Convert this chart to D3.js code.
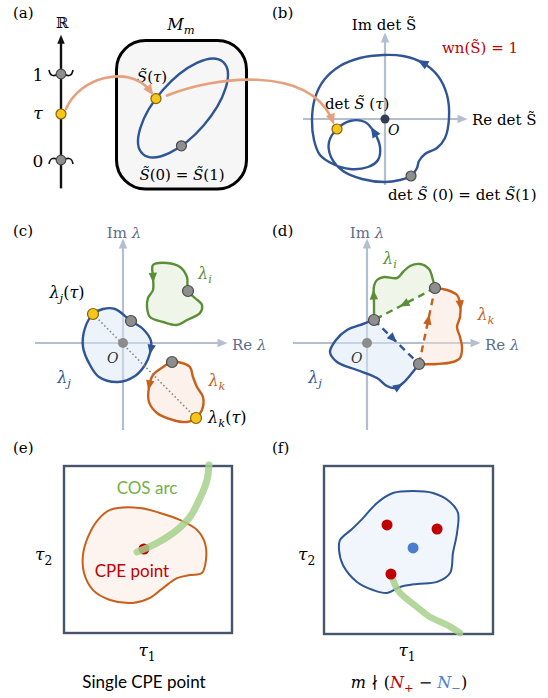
<!DOCTYPE html>
<html><head><meta charset="utf-8">
<script src="https://cdn.jsdelivr.net/npm/d3@7"></script>
<style>
body{margin:0;background:#fff}
svg{display:block}
</style></head><body>
<svg id="fig" width="548" height="698"></svg>
<script>
// ---------------- data ----------------
// (a) parameter line τ ∈ [0,1] and the closed loop S̃(τ) in M_m
const tauTicks = [0, 1];
const tauValue = 0.535;
const loopAxes = [61, 27];          // semi-axes of the loop
const loopTilt = 49;                // degrees
const loopMarks = {start: 119, tau: -100};   // eccentric angles on the loop

// (b) det S̃(τ) in the complex plane (starts/ends at τ = 0 = 1)
const detCurve = [[26,-57],[32,-49],[34,-42],[40,-35],[52,-29],[60,-19],[64,1],[62,24],[53,43],[38,56],[18,63],[-2,64],[-25,61],[-45,53],[-61,39],[-70,21],[-73,-1],[-71,-21],[-65,-36],[-52,-45],[-35,-50],[-17,-48],[-7,-41],[-5,-28],[-11,-13],[-20,-3],[-35,-2],[-48,-10],[-56,-23],[-54,-38],[-42,-52],[-23,-60],[0,-63],[15,-61]];
const detTauIndex = 27;
const detArrows = [[38,56],[-11,-13]];

// (c) eigenvalue loops λ_i, λ_j, λ_k
const lamI = [[44,80],[30,78],[30,66],[30,53],[25,45],[24,36],[27,26],[40,21],[54,18],[64,23],[77,30],[79,38],[72,45],[65,52],[64,66],[57,76]];
const lamJ = [[-30,29],[-20,34],[-8,34],[8,22],[20,14],[28,2],[27,-10],[22,-22],[12,-33],[-5,-39],[-24,-34],[-33,-22],[-40,-4],[-38,15]];
const lamK = [[49,-19],[40,-24],[30,-32],[26,-44],[26,-59],[34,-70],[50,-77],[64,-79],[73,-75],[79,-67],[80,-54],[74,-44],[70,-34],[67,-24],[59,-20]];
const lamStartIdx = {i: 13, j: 3, k: 0};
const lamTauIdx = {j: 0, k: 8};
const lamArrows = {i: [30,66], j: [26,-6], k: [28,-42]};

// (d) braided eigenvalue paths exchanging λ_i → λ_j → λ_k
const swapA = [7,23], swapB = [68,55], swapC = [52,-21];
const swapI = [[7,23],[7,40],[7,57],[10,63],[17,66],[30,65],[36,71],[43,77],[53,79],[62,74],[66,63],[68,55]];
const swapK = [[68,55],[80,53],[90,48],[93,40],[93,26],[90,16],[93,6],[95,-4],[93,-15],[86,-19],[70,-21],[52,-21]];
const swapJ = [[7,23],[-4,19],[-20,13],[-31,3],[-37,-9],[-30,-19],[-10,-27],[10,-35],[20,-43],[28,-45],[36,-40],[45,-30],[52,-21]];
const swapArrows = {i: [7,48], k: [93,38], j: [31,-43]};
const swapDashFrac = {i: 0.5, k: 0.58, j: 0.42};

// (e) single CPE point with a COS arc in the (τ1, τ2) torus
const regionE = [[0.274,0.737],[0.452,0.749],[0.571,0.719],[0.690,0.677],[0.792,0.617],[0.839,0.539],[0.845,0.437],[0.821,0.359],[0.750,0.347],[0.673,0.329],[0.589,0.269],[0.512,0.210],[0.411,0.180],[0.274,0.198],[0.173,0.257],[0.119,0.359],[0.113,0.467],[0.143,0.575],[0.202,0.677]];
const cpeE = [[0.476,0.503]];
const cosArcE = [[0.435,0.485],[0.554,0.539],[0.673,0.617],[0.750,0.695],[0.810,0.808],[0.851,0.916],[0.863,1.006]];

// (f) several CPE points of both signs
const regionF = [[0.095,0.560],[0.166,0.625],[0.231,0.690],[0.314,0.780],[0.408,0.839],[0.527,0.851],[0.645,0.839],[0.746,0.786],[0.793,0.720],[0.787,0.601],[0.763,0.482],[0.746,0.363],[0.669,0.310],[0.550,0.298],[0.450,0.280],[0.373,0.244],[0.290,0.262],[0.195,0.310],[0.112,0.411],[0.089,0.500]];
const cpePlus = [[0.373,0.649],[0.669,0.625],[0.396,0.357]];
const cpeMinus = [[0.527,0.512]];
const cosArcF = [[0.396,0.357],[0.441,0.256],[0.550,0.161],[0.627,0.101],[0.728,0.054],[0.805,0.006]];

// ---------------- drawing ----------------
const svg = d3.select("#fig");
const SERIF = "'DejaVu Serif','Liberation Serif',serif";
const SANS = "Lato,'Open Sans',sans-serif";
const C = {
  blue:"#2f5597", green:"#5b8f37", orange:"#c8601c",
  blueFill:"rgba(220,232,246,0.5)", greenFill:"rgba(224,238,212,0.5)", orangeFill:"rgba(251,226,210,0.45)",
  axis:"#b3bed0", axisText:"#5d6c88", gray:"#8e8e8e", grayStroke:"#4a4a4a",
  yellow:"#f6c61c", yellowStroke:"#856300", salmon:"#e6a07c", red:"#c00000",
  dotBlue:"#4a7fd0", arc:"#a6d08b", cosText:"#72b04a", frame:"#46556b"
};

function label(g, x, y, parts, o = {}) {
  const size = o.size || 15;
  const t = g.append("text").attr("x", x).attr("y", y)
    .attr("font-family", o.family || SERIF).attr("font-size", size)
    .attr("fill", o.color || "#000").attr("text-anchor", o.anchor || "start");
  let shift = 0;
  parts.forEach(p => {
    if (typeof p === "string") p = {t: p};
    const ts = t.append("tspan").text(p.t);
    if (p.i) ts.attr("font-style", "italic");
    if (p.c) ts.attr("fill", p.c);
    const want = p.sub ? size * 0.28 : 0;
    if (want !== shift) { ts.attr("dy", want - shift); shift = want; }
    if (p.sub) ts.attr("font-size", size * 0.72);
  });
  return t;
}

function arrowHead(g, x, y, ang, color, size = 10) {
  g.append("path")
    .attr("d", `M${size*0.55},0 L${-size*0.45},${-size*0.42} L${-size*0.45},${size*0.42}Z`)
    .attr("fill", color)
    .attr("transform", `translate(${x},${y}) rotate(${ang})`);
}

function headAlong(g, node, target, color, size = 10) {
  const L = node.getTotalLength();
  let best = 0, bd = Infinity;
  for (let l = 0; l <= L; l += 0.5) {
    const p = node.getPointAtLength(l);
    const d = (p.x - target[0]) ** 2 + (p.y - target[1]) ** 2;
    if (d < bd) { bd = d; best = l; }
  }
  const p0 = node.getPointAtLength(Math.max(0, best - 1.5));
  const p1 = node.getPointAtLength(Math.min(L, best + 1.5));
  const c = node.getPointAtLength(best);
  arrowHead(g, c.x, c.y, Math.atan2(p1.y - p0.y, p1.x - p0.x) * 180 / Math.PI, color, size);
}

function marker(g, x, y, kind, r = 5) {
  const f = kind === "tau" ? C.yellow : C.gray;
  const s = kind === "tau" ? C.yellowStroke : C.grayStroke;
  g.append("circle").attr("cx", x).attr("cy", y).attr("r", r)
    .attr("fill", f).attr("stroke", s).attr("stroke-width", 1.2);
}

// complex-plane axes with arrow tips
function planeAxes(g, x, y, xr, yr, color, w = 2.2) {
  g.append("line").attr("x1", x(xr[0])).attr("x2", x(xr[1]) - 4).attr("y1", y(0)).attr("y2", y(0))
    .attr("stroke", color).attr("stroke-width", w);
  g.append("line").attr("x1", x(0)).attr("x2", x(0)).attr("y1", y(yr[0])).attr("y2", y(yr[1]) + 4)
    .attr("stroke", color).attr("stroke-width", w);
  arrowHead(g, x(xr[1]), y(0), 0, color, 10);
  arrowHead(g, x(0), y(yr[1]), -90, color, 10);
}

// ---- panel (a) ----
const gA = svg.append("g");
label(gA, 13, 18, ["(a)"], {size: 15});
const tauY = d3.scaleLinear().domain([0, 1]).range([160, 74]);
const axX = 61;
gA.append("line").attr("x1", axX).attr("x2", axX).attr("y1", tauY(-0.33)).attr("y2", tauY(1.38))
  .attr("stroke", "#111").attr("stroke-width", 2.4);
arrowHead(gA, axX, tauY(1.4), -90, "#111", 9);
label(gA, axX + 1, 28, ["ℝ"], {anchor: "middle", size: 15});
tauTicks.forEach(v => {
  const y = tauY(v), s = v === 1 ? -1 : 1;
  [-1, 1].forEach(side => {
    gA.append("path")
      .attr("d", `M${axX + side*3},${y} C${axX + side*7},${y - s*3} ${axX + side*11},${y - s*2} ${axX + side*12},${y + s*4}`)
      .attr("fill", "none").attr("stroke", "#111").attr("stroke-width", 1.6);
  });
  label(gA, 38, y + 7, [String(v)], {anchor: "middle", size: 17});
  marker(gA, axX, y, "start", 4.8);
});
label(gA, 38, tauY(tauValue) + 5, [{t: "τ", i: true}], {anchor: "middle", size: 17});

// manifold M_m
gA.append("rect").attr("x", 116.5).attr("y", 40.5).attr("width", 130).attr("height", 148.5)
  .attr("rx", 29).attr("fill", "#f6f6f6").attr("stroke", "#000").attr("stroke-width", 3);
label(gA, 181, 30, [{t: "M", i: true}, {t: "m", i: true, sub: true}], {anchor: "middle", size: 16});

const loopC = [183, 108];
const tiltR = -loopTilt * Math.PI / 180;
function loopPoint(deg) {
  const t = deg * Math.PI / 180;
  const u = loopAxes[0] * Math.cos(t), v = loopAxes[1] * Math.sin(t);
  return [loopC[0] + u * Math.cos(tiltR) - v * Math.sin(tiltR),
          loopC[1] + u * Math.sin(tiltR) + v * Math.cos(tiltR)];
}
gA.append("ellipse").attr("cx", 0).attr("cy", 0).attr("rx", loopAxes[0]).attr("ry", loopAxes[1])
  .attr("transform", `translate(${loopC}) rotate(${-loopTilt})`)
  .attr("fill", "none").attr("stroke", C.blue).attr("stroke-width", 2.4);
const pStart = loopPoint(loopMarks.start), pTau = loopPoint(loopMarks.tau);
marker(gA, pStart[0], pStart[1], "start", 5);
label(gA, 152, 82, [{t: "S̃", i: true}, "(", {t: "τ", i: true}, ")"], {anchor: "middle", size: 15});
label(gA, 182, 180, [{t: "S̃", i: true}, "(0) = ", {t: "S̃", i: true}, "(1)"], {anchor: "middle", size: 15});

// ---- panel (b) ----
const gB = svg.append("g");
label(gB, 272, 18, ["(b)"], {size: 15});
const bx = d3.scaleLinear().domain([-100, 100]).range([285, 485]);
const by = d3.scaleLinear().domain([-100, 100]).range([219, 19]);
planeAxes(gB, bx, by, [-82, 77], [-66, 81], C.axis);
label(gB, 384, 30, ["Im det S̃"], {anchor: "middle", size: 15});
label(gB, 472, 125, ["Re det S̃"], {size: 15});
label(gB, 480, 53, ["wn(S̃) = 1"], {anchor: "middle", size: 15, color: C.red});
const detLine = d3.line().x(d => bx(d[0])).y(d => by(d[1])).curve(d3.curveCatmullRomClosed.alpha(0.5));
const detPathEl = gB.append("path").attr("d", detLine(detCurve))
  .attr("fill", "none").attr("stroke", C.blue).attr("stroke-width", 2.4).attr("stroke-linejoin", "round");
detArrows.forEach(a => headAlong(gB, detPathEl.node(), [bx(a[0]), by(a[1])], C.blue, 11));
gB.append("circle").attr("cx", bx(0)).attr("cy", by(0)).attr("r", 4.5).attr("fill", "#343c52");
label(gB, 388, 135, [{t: "O", i: true}], {size: 14});
marker(gB, bx(detCurve[0][0]), by(detCurve[0][1]), "start", 5);
label(gB, 325, 109, ["det ", {t: "S̃", i: true}, " (", {t: "τ", i: true}, ")"], {size: 15});
label(gB, 388, 200, ["det ", {t: "S̃", i: true}, " (0) = det ", {t: "S̃", i: true}, "(1)"], {size: 15});

// salmon maps τ → S̃(τ) → det S̃(τ)
const gMap = svg.append("g");
function mapArrow(d, tip, ang) {
  gMap.append("path").attr("d", d).attr("fill", "none").attr("stroke", C.salmon)
    .attr("stroke-width", 2.6).attr("stroke-linecap", "round");
  arrowHead(gMap, tip[0], tip[1], ang, C.salmon, 11);
}
const tauPt = [axX, tauY(tauValue)];
mapArrow(`M${tauPt[0] + 5},${tauPt[1] - 5} C${80},${76} ${128},${66} ${pTau[0] - 8},${pTau[1] - 10}`,
  [pTau[0] - 6, pTau[1] - 8], 55);
const detTau = [bx(detCurve[detTauIndex][0]), by(detCurve[detTauIndex][1])];
mapArrow(`M${pTau[0] + 11},${pTau[1] - 3} C${215},${76} ${305},${66} ${detTau[0] - 6},${detTau[1] - 12}`,
  [detTau[0] - 5, detTau[1] - 10], 70);
marker(gA, tauPt[0], tauPt[1], "tau", 5);
marker(gA, pTau[0], pTau[1], "tau", 5);
marker(gB, detTau[0], detTau[1], "tau", 5);

// ---- panel (c) ----
const gC = svg.append("g");
label(gC, 13, 236, ["(c)"], {size: 15});
const cx = d3.scaleLinear().domain([-100, 100]).range([23, 223]);
const cy = d3.scaleLinear().domain([-100, 100]).range([443, 243]);
planeAxes(gC, cx, cy, [-88, 99], [-87, 99], C.axis);
label(gC, 124, 238, ["Im ", {t: "λ", i: true}], {anchor: "middle", size: 15, color: C.axisText});
label(gC, 232, 350, ["Re ", {t: "λ", i: true}], {size: 15, color: C.axisText});
const blobC = d3.line().x(d => cx(d[0])).y(d => cy(d[1])).curve(d3.curveCatmullRomClosed.alpha(0.5));
const loopsC = [
  {pts: lamJ, col: C.blue, fill: C.blueFill, key: "j"},
  {pts: lamI, col: C.green, fill: C.greenFill, key: "i"},
  {pts: lamK, col: C.orange, fill: C.orangeFill, key: "k"}
];
loopsC.forEach(L => {
  const el = gC.append("path").attr("d", blobC(L.pts)).attr("fill", L.fill)
    .attr("stroke", L.col).attr("stroke-width", 2.4);
  const a = lamArrows[L.key];
  headAlong(gC, el.node(), [cx(a[0]), cy(a[1])], L.col, 10);
});
gC.append("circle").attr("cx", cx(0)).attr("cy", cy(0)).attr("r", 5).attr("fill", "#8c8c8c");
label(gC, 107, 363, [{t: "O", i: true}], {size: 14, color: "#333"});
const tj = lamJ[lamTauIdx.j], tk = lamK[lamTauIdx.k];
gC.append("line").attr("x1", cx(tj[0])).attr("y1", cy(tj[1])).attr("x2", cx(tk[0])).attr("y2", cy(tk[1]))
  .attr("stroke", "#8a8a8a").attr("stroke-width", 1.6).attr("stroke-dasharray", "1.6,2.4");
[["i", lamI], ["j", lamJ], ["k", lamK]].forEach(([k, pts]) => {
  const p = pts[lamStartIdx[k]];
  marker(gC, cx(p[0]), cy(p[1]), "start", 5.5);
});
marker(gC, cx(tj[0]), cy(tj[1]), "tau", 5.5);
marker(gC, cx(tk[0]), cy(tk[1]), "tau", 5.5);
label(gC, 205, 279, [{t: "λ", i: true}, {t: "i", i: true, sub: true}], {anchor: "middle", size: 16, color: C.green});
label(gC, 64, 383, [{t: "λ", i: true}, {t: "j", i: true, sub: true}], {anchor: "middle", size: 16, color: C.blue});
label(gC, 217, 386, [{t: "λ", i: true}, {t: "k", i: true, sub: true}], {anchor: "middle", size: 16, color: C.orange});
label(gC, 67, 298, [{t: "λ", i: true}, {t: "j", i: true, sub: true}, "(", {t: "τ", i: true}, ")"], {anchor: "middle", size: 16});
label(gC, 208, 423, [{t: "λ", i: true}, {t: "k", i: true, sub: true}, "(", {t: "τ", i: true}, ")"], {size: 16});

// ---- panel (d) ----
const gD = svg.append("g");
label(gD, 272, 236, ["(d)"], {size: 15});
const dx = d3.scaleLinear().domain([-100, 100]).range([267, 467]);
const dy = d3.scaleLinear().domain([-100, 100]).range([443, 243]);
planeAxes(gD, dx, dy, [-74, 108], [-87, 99], C.axis);
label(gD, 367, 238, ["Im ", {t: "λ", i: true}], {anchor: "middle", size: 15, color: C.axisText});
label(gD, 485, 350, ["Re ", {t: "λ", i: true}], {size: 15, color: C.axisText});
const openD = d3.line().x(d => dx(d[0])).y(d => dy(d[1])).curve(d3.curveCatmullRom.alpha(0.5));
const swaps = [
  {pts: swapJ, col: C.blue, fill: C.blueFill, key: "j", from: swapA, to: swapC},
  {pts: swapI, col: C.green, fill: C.greenFill, key: "i", from: swapB, to: swapA},
  {pts: swapK, col: C.orange, fill: C.orangeFill, key: "k", from: swapC, to: swapB}
];
swaps.forEach(S => {
  gD.append("path").attr("d", openD(S.pts) + "Z").attr("fill", S.fill).attr("stroke", "none");
});
gD.append("circle").attr("cx", dx(0)).attr("cy", dy(0)).attr("r", 5).attr("fill", "#8c8c8c");
label(gD, 351, 363, [{t: "O", i: true}], {size: 14, color: "#333"});
swaps.forEach(S => {
  const el = gD.append("path").attr("d", openD(S.pts)).attr("fill", "none")
    .attr("stroke", S.col).attr("stroke-width", 2.4);
  const a = swapArrows[S.key];
  headAlong(gD, el.node(), [dx(a[0]), dy(a[1])], S.col, 10);
  const x1 = dx(S.from[0]), y1 = dy(S.from[1]), x2 = dx(S.to[0]), y2 = dy(S.to[1]);
  gD.append("line").attr("x1", x1).attr("y1", y1).attr("x2", x2).attr("y2", y2)
    .attr("stroke", S.col).attr("stroke-width", 2.4).attr("stroke-dasharray", "7,5");
  const f = swapDashFrac[S.key];
  arrowHead(gD, x1 + (x2 - x1) * f, y1 + (y2 - y1) * f, Math.atan2(y2 - y1, x2 - x1) * 180 / Math.PI, S.col, 10);
});
[swapA, swapB, swapC].forEach(p => marker(gD, dx(p[0]), dy(p[1]), "start", 5.5));
label(gD, 390, 264, [{t: "λ", i: true}, {t: "i", i: true, sub: true}], {anchor: "middle", size: 16, color: C.green});
label(gD, 486, 320, [{t: "λ", i: true}, {t: "k", i: true, sub: true}], {anchor: "middle", size: 16, color: C.orange});
label(gD, 315, 383, [{t: "λ", i: true}, {t: "j", i: true, sub: true}], {anchor: "middle", size: 16, color: C.blue});

// ---- panel (e) ----
const gE = svg.append("g");
label(gE, 13, 453, ["(e)"], {size: 15});
const ex = d3.scaleLinear().domain([0, 1]).range([64, 232]);
const ey = d3.scaleLinear().domain([0, 1]).range([633, 466]);
gE.append("rect").attr("x", ex(0)).attr("y", ey(1)).attr("width", ex(1) - ex(0)).attr("height", ey(0) - ey(1))
  .attr("fill", "#fff").attr("stroke", C.frame).attr("stroke-width", 2.4);
const blobE = d3.line().x(d => ex(d[0])).y(d => ey(d[1])).curve(d3.curveCatmullRomClosed.alpha(0.5));
gE.append("path").attr("d", blobE(regionE)).attr("fill", "#fdf4ef").attr("stroke", C.orange).attr("stroke-width", 2);
cpeE.forEach(p => gE.append("circle").attr("cx", ex(p[0])).attr("cy", ey(p[1])).attr("r", 5.5).attr("fill", C.red));
const arcE = d3.line().x(d => ex(d[0])).y(d => ey(d[1])).curve(d3.curveCatmullRom.alpha(0.5));
gE.append("path").attr("d", arcE(cosArcE)).attr("fill", "none").attr("stroke", C.arc)
  .attr("stroke-width", 7).attr("stroke-opacity", 0.85).attr("stroke-linecap", "round");
label(gE, 147, 494, ["COS arc"], {family: SANS, anchor: "middle", size: 17, color: C.cosText});
label(gE, 132, 577, ["CPE point"], {family: SANS, anchor: "middle", size: 17, color: C.red});
label(gE, 35, 560, [{t: "τ", i: true}, {t: "2", sub: true}], {size: 17});
label(gE, 147, 656, [{t: "τ", i: true}, {t: "1", sub: true}], {anchor: "middle", size: 17});
label(gE, 144, 688, ["Single CPE point"], {family: SANS, anchor: "middle", size: 17});

// ---- panel (f) ----
const gF = svg.append("g");
label(gF, 272, 453, ["(f)"], {size: 15});
const fx = d3.scaleLinear().domain([0, 1]).range([324, 493]);
const fy = d3.scaleLinear().domain([0, 1]).range([634, 466]);
gF.append("rect").attr("x", fx(0)).attr("y", fy(1)).attr("width", fx(1) - fx(0)).attr("height", fy(0) - fy(1))
  .attr("fill", "#fff").attr("stroke", C.frame).attr("stroke-width", 2.4);
const blobF = d3.line().x(d => fx(d[0])).y(d => fy(d[1])).curve(d3.curveCatmullRomClosed.alpha(0.5));
gF.append("path").attr("d", blobF(regionF)).attr("fill", "#f1f6fc").attr("stroke", C.blue).attr("stroke-width", 2);
const arcF = d3.line().x(d => fx(d[0])).y(d => fy(d[1])).curve(d3.curveCatmullRom.alpha(0.5));
gF.append("path").attr("d", arcF(cosArcF)).attr("fill", "none").attr("stroke", C.arc)
  .attr("stroke-width", 6.5).attr("stroke-opacity", 0.85).attr("stroke-linecap", "round");
cpePlus.forEach(p => gF.append("circle").attr("cx", fx(p[0])).attr("cy", fy(p[1])).attr("r", 5.5).attr("fill", C.red));
cpeMinus.forEach(p => gF.append("circle").attr("cx", fx(p[0])).attr("cy", fy(p[1])).attr("r", 5.5).attr("fill", C.dotBlue));
label(gF, 298, 560, [{t: "τ", i: true}, {t: "2", sub: true}], {size: 17});
label(gF, 407, 656, [{t: "τ", i: true}, {t: "1", sub: true}], {anchor: "middle", size: 17});
label(gF, 409, 688, [{t: "m", i: true}, " ∤ (", {t: "N", i: true, c: C.red}, {t: "+", sub: true, c: C.red}, " − ", {t: "N", i: true, c: C.dotBlue}, {t: "−", sub: true, c: C.dotBlue}, ")"], {anchor: "middle", size: 16});
</script>
</body></html>
